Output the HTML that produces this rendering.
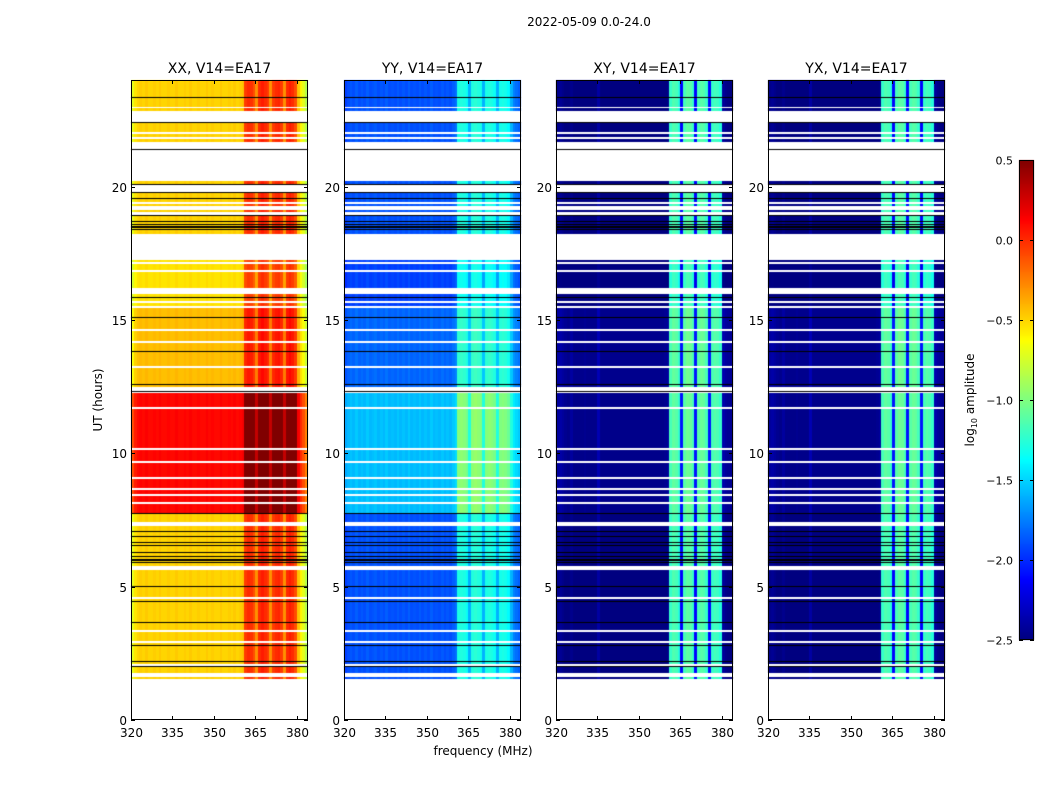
<!DOCTYPE html>
<html><head><meta charset="utf-8">
<style>
body{margin:0;background:#fff;}
#wrap{position:relative;width:1050px;height:800px;background:#fff;overflow:hidden;font-family:"DejaVu Sans","Liberation Sans",sans-serif;}
canvas{position:absolute;}
svg{position:absolute;left:0;top:0;}
</style></head>
<body>
<div id="wrap">
<canvas id="cv" width="1050" height="800" style="left:0;top:0"></canvas>
<svg id="sv" width="1050" height="800"></svg>
</div>
<script>
// ---- data ----
const panelTitles = ["XX, V14=EA17","YY, V14=EA17","XY, V14=EA17","YX, V14=EA17"];
const xTicks = [320,335,350,365,380];
const yTicks = [0,5,10,15,20];
const cbTicks = [0.5,0.0,-0.5,-1.0,-1.5,-2.0,-2.5];
const cbLabels = ["0.5","0.0","\u22120.5","\u22121.0","\u22121.5","\u22122.0","\u22122.5"];
// row segments: [startHour, endHour, epoch, delta]
const segStart = [23.0,21.69,22.85,20.08,18.15,15.5,12.31,7.71,5.79,1.76,1.55];
const segEnd   = [24.0,22.37,22.95,20.2,19.77,17.34,15.5,12.26,7.71,5.63,1.6];
const segEpoch = [0,0,0,0,0,0,0,1,0,0,0];
const segDelta = [0.0,0.0,0.0,0.0,0.0,-0.05,0.06,0.0,0.0,0.0,0.0];
// thin flagged lines
const whiteHours = [22.0,21.81,19.37,19.25,19.15,19.02,18.94,17.29,17.13,16.82,16.1,16.02,16.18,15.69,15.5,14.62,14.19,13.23,12.45,12.38,11.69,10.15,9.66,9.06,8.65,8.44,8.13,7.4,7.33,4.56,3.35,2.91,2.06,18.2,18.12];
const blackHours = [23.33,22.37,21.36,20.08,19.77,19.54,18.91,18.69,18.56,18.5,18.44,18.38,15.81,15.06,13.79,12.56,12.31,7.71,7.05,6.88,6.65,6.62,6.54,6.28,6.13,6.0,5.97,5.88,5.0,4.43,3.65,2.79,2.19,2.0];
// epoch base levels (log10 amplitude) per panel
const baseXX = [-0.5, 0.1];
const baseYY = [-1.9, -1.58];
const baseXY = [-2.52, -2.47];
const baseYX = [-2.52, -2.47];
// frequency profiles, 64 channels of 1 MHz from 320 MHz
const profXX = [-0.2,-0.05,0,0.02,0,0.03,0,0,0.02,0,0.03,0,0,0.02,0,0,0.03,0,0,0.02,0,0.03,0,0,0.02,0,0,0.03,0,0.02,0,0,0.03,0,0,0.02,0,0.03,0,0.02,0.05,0.45,0.5,0.48,0.4,0.2,0.5,0.55,0.5,0.45,0.2,0.45,0.5,0.52,0.45,0.2,0.5,0.55,0.5,0.4,0.05,-0.1,-0.2,-0.35];
const profYY = [-0.05,0,0.03,0,0.05,0,0.03,0,0.05,0,0.02,0.04,0,0.03,0,0.05,0,0.02,0,0.04,0,0.03,0,0.05,0,0.02,0,0.04,0,0.03,0,0.05,0,0.02,0,0.04,0,0.03,0,0.05,0.1,0.6,0.62,0.6,0.55,0.3,0.62,0.65,0.62,0.58,0.3,0.6,0.62,0.6,0.56,0.3,0.58,0.6,0.58,0.52,0.3,0.15,0.1,0.05];
const profXY = [0.05,0.08,0.05,0.02,0,0.06,0,0,0,0,0.02,0,0,0,0,0.12,0,0,0,0,0,0,0,0,0,0,0,0,0,0,0,0,0,0,0,0,0,0,0,0.02,0.05,1.3,1.38,1.35,1.25,0.4,1.35,1.42,1.4,1.3,0.4,1.35,1.4,1.38,1.3,0.4,1.3,1.35,1.32,1.25,0.1,0.05,0.03,0.02];
const profYX = profXY.slice();
// ---- layout ----
const panelLeft = [131,344,556,768];
const PW = 177, PT = 80, PH = 640;
const fMin = 320, fMax = 384, hMin = 0, hMax = 24;
const bases = [baseXX, baseYY, baseXY, baseYX];
const profs = [profXX, profYY, profXY, profYX];
const vMin = -2.5, vMax = 0.5;

function xScale(p, f){ return panelLeft[p] + (f - fMin) / (fMax - fMin) * PW; }
function yScale(h){ return PT + (hMax - h) / (hMax - hMin) * PH; }
function jet(v){
  let t = (v - vMin) / (vMax - vMin); t = Math.max(0, Math.min(1, t));
  const c = x => Math.max(0, Math.min(1, x));
  const r = c(1.5 - Math.abs(4*t - 3)), g = c(1.5 - Math.abs(4*t - 2)), b = c(1.5 - Math.abs(4*t - 1));
  return `rgb(${Math.round(r*255)},${Math.round(g*255)},${Math.round(b*255)})`;
}
const cv = document.getElementById('cv'); const ctx = cv.getContext('2d');
for (let p = 0; p < 4; p++) {
  for (let s = 0; s < segStart.length; s++) {
    const y0 = Math.round(yScale(segEnd[s])), y1 = Math.round(yScale(segStart[s]));
    for (let ch = 0; ch < profs[p].length; ch++) {
      const v = bases[p][segEpoch[s]] + profs[p][ch] + segDelta[s];
      const x0 = Math.round(xScale(p, fMin + ch)), x1 = Math.round(xScale(p, fMin + ch + 1));
      ctx.fillStyle = jet(v);
      ctx.fillRect(x0, y0, x1 - x0, Math.max(1, y1 - y0));
    }
  }
  ctx.fillStyle = '#fff';
  whiteHours.forEach(h => ctx.fillRect(panelLeft[p], Math.round(yScale(h)) - 1, PW, 2));
  ctx.fillStyle = '#000';
  blackHours.forEach(h => ctx.fillRect(panelLeft[p], Math.round(yScale(h)) - 1, PW, 1));
}
// colorbar
const cbX = 1019, cbW = 15, cbTop = 160, cbH = 480;
for (let i = 0; i < cbH; i++) {
  ctx.fillStyle = jet(vMax - (i + 0.5) / cbH * (vMax - vMin));
  ctx.fillRect(cbX, cbTop + i, cbW, 1);
}
// ---- svg axes ----
const NS = 'http://www.w3.org/2000/svg';
const sv = document.getElementById('sv');
function mk(tag, attrs, parent){ const e = document.createElementNS(NS, tag); for (const k in attrs) e.setAttribute(k, attrs[k]); (parent || sv).appendChild(e); return e; }
for (let p = 0; p < 4; p++) {
  const g = mk('g', {});
  
  
  const fr = mk('rect', {x: panelLeft[p] + 0.5, y: PT + 0.5, width: PW - 1, height: PH - 1, fill: 'none', stroke: '#000', 'stroke-width': 1}, g);
  
  
  const t = mk('text', {x: panelLeft[p] + PW / 2, y: 73, 'text-anchor': 'middle', 'font-size': 14}, g);
  t.textContent = panelTitles[p];
  
  
  xTicks.forEach(f => {
    const x = Math.round(xScale(p, f)) + 0.5;
    mk('line', {x1: x, x2: x, y1: PT + PH, y2: PT + PH - 4, stroke: '#000'}, g);
    mk('line', {x1: x, x2: x, y1: PT, y2: PT + 4, stroke: '#000'}, g);
    const l = mk('text', {x: x, y: PT + PH + 17, 'text-anchor': 'middle', 'font-size': 12}, g);
    l.textContent = f;
    
    
  });
  yTicks.forEach(h => {
    const y = Math.round(yScale(h)) + 0.5;
    mk('line', {x1: panelLeft[p], x2: panelLeft[p] + 4, y1: y, y2: y, stroke: '#000'}, g);
    mk('line', {x1: panelLeft[p] + PW, x2: panelLeft[p] + PW - 4, y1: y, y2: y, stroke: '#000'}, g);
    const l = mk('text', {x: panelLeft[p] - 4, y: y + 4.5, 'text-anchor': 'end', 'font-size': 12}, g);
    l.textContent = h;
    
    
  });
}
const sup = mk('text', {x: 589, y: 26, 'text-anchor': 'middle', 'font-size': 12});
sup.textContent = '2022-05-09 0.0-24.0';


const yl = mk('text', {x: 0, y: 0, 'text-anchor': 'middle', 'font-size': 12, transform: 'translate(102,400) rotate(-90)'});
yl.textContent = 'UT (hours)';


const xl = mk('text', {x: 483, y: 755, 'text-anchor': 'middle', 'font-size': 12});
xl.textContent = 'frequency (MHz)';


// colorbar axes
const cbg = mk('g', {});


mk('rect', {x: cbX + 0.5, y: cbTop + 0.5, width: cbW - 1, height: cbH - 1, fill: 'none', stroke: '#000'}, cbg);
cbTicks.forEach((v, i) => {
  const y = Math.round(cbTop + (vMax - v) / (vMax - vMin) * cbH) + 0.5;
  mk('line', {x1: cbX, x2: cbX + 4, y1: y, y2: y, stroke: '#000'}, cbg);
  mk('line', {x1: cbX + cbW, x2: cbX + cbW - 4, y1: y, y2: y, stroke: '#000'}, cbg);
  const l = mk('text', {x: 1013, y: y + 4, 'text-anchor': 'end', 'font-size': 11}, cbg);
  l.textContent = cbLabels[i];
  
  
});
const cl = mk('text', {x: 0, y: 0, 'text-anchor': 'middle', 'font-size': 12, transform: 'translate(974,400) rotate(-90)'}, cbg);
cl.innerHTML = 'log<tspan font-size="8" dy="3">10</tspan><tspan dy="-3"> amplitude</tspan>';


</script>
</body></html>
